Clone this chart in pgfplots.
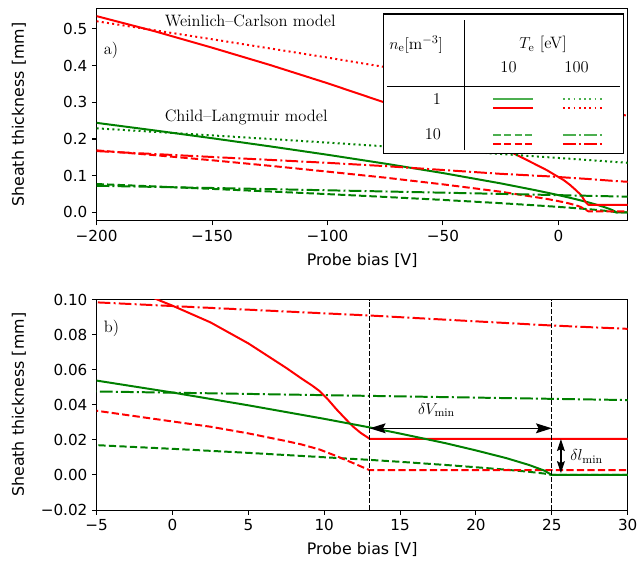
\documentclass[border=0pt]{standalone}
\usepackage{pgfplots}
\usepackage{pgfplotstable}
\pgfplotsset{compat=1.18}
\usepackage{fontspec}
\usetikzlibrary{arrows.meta}
\newfontfamily\dejavu{DejaVu Sans}
\definecolor{mplgreen}{HTML}{008000}
\definecolor{leggreen}{HTML}{4CAF50}

% Weinlich-Carlson model (red), Child-Langmuir model (green)
% A: ne=1, Te=10 | B: ne=1, Te=100 | C: ne=10, Te=10 | D: ne=10, Te=100
\pgfplotstableread{
x y
-200 0.535
-175 0.494
-150 0.449
-125 0.402
-100 0.352
-75 0.299
-50 0.240
-25 0.178
-15 0.147
-10 0.131
-5 0.115
-1 0.100
0 0.0965
2.5 0.087
5 0.075
7.5 0.061
8.5 0.055
9.2 0.051
9.7 0.0478
10.2 0.0435
10.8 0.0375
11.4 0.0320
11.9 0.0276
12.4 0.0240
13 0.0206
30 0.0206
}\wcA
\pgfplotstableread{
x y
-200 0.521
-150 0.472
-100 0.422
-75 0.396
-50 0.369
-25 0.338
0 0.304
30 0.263
}\wcB
\pgfplotstableread{
x y
-200 0.169
-175 0.156
-150 0.142
-125 0.127
-100 0.111
-75 0.0946
-50 0.0763
-25 0.0563
-15 0.0465
-10 0.0415
-5 0.0366
0 0.0305
2.5 0.0275
5 0.0237
7.5 0.0193
8.5 0.0174
9.7 0.0145
10.2 0.0128
10.8 0.0108
11.9 0.0068
13 0.0027
30 0.0027
}\wcC
\pgfplotstableread{
x y
-200 0.167
-150 0.151
-100 0.135
-75 0.126
-50 0.1155
-25 0.105
-5 0.0984
0 0.0963
13 0.0909
25 0.0852
30 0.0833
}\wcD
\pgfplotstableread{
x y
-200 0.2440
-175 0.2234
-150 0.2021
-125 0.1800
-100 0.1570
-75 0.1328
-50 0.1071
-25 0.0790
-10 0.0604
-5 0.0538
0 0.0470
5 0.0397
10 0.0320
13 0.0271
15 0.0236
18 0.0181
20 0.0140
22 0.0096
23.5 0.0057
24.5 0.0025
25 0.0
30 0.0
}\clA
\pgfplotstableread{
x y
-200 0.2290
-175 0.2195
-150 0.2098
-125 0.2000
-100 0.1901
-75 0.1799
-50 0.1696
-25 0.1591
0 0.1483
15 0.1417
30 0.1350
}\clB
\pgfplotstableread{
x y
-200 0.0772
-175 0.0707
-150 0.0639
-125 0.0569
-100 0.0497
-75 0.0420
-50 0.0339
-25 0.0250
-10 0.0191
-5 0.0170
0 0.0149
5 0.0126
10 0.0101
13 0.0086
15 0.0075
18 0.0057
20 0.0044
22 0.0030
23.5 0.0018
24.5 0.0008
25 0.0
30 0.0
}\clC
\pgfplotstableread{
x y
-200 0.0724
-175 0.0694
-150 0.0664
-125 0.0633
-100 0.0601
-75 0.0569
-50 0.0536
-25 0.0503
-5 0.0476
0 0.0469
15 0.0448
30 0.0427
}\clD

\tikzset{
  wc/.style={red},
  cl/.style={mplgreen},
  lnA/.style={solid},
  lnB/.style={dash pattern=on 1.5pt off 2.475pt},
  lnC/.style={dash pattern=on 5.55pt off 2.4pt},
  lnD/.style={dash pattern=on 9.6pt off 2.4pt on 1.5pt off 2.4pt},
}
\pgfplotsset{
  sheath/.style={
    scale only axis, width=401.9pt,
    tick align=outside, xtick pos=bottom, ytick pos=left,
    major tick length=3.5pt,
    every tick/.style={black, line width=0.8pt},
    axis line style={line width=0.8pt},
    tick label style={font=\dejavu\fontsize{11.5}{13}\selectfont},
    ylabel={Sheath thickness [mm]}, xlabel={Probe bias [V]},
    ylabel style={at={(axis description cs:-0.1465,0.5)}, anchor=center,
      font=\dejavu\fontsize{12}{14}\selectfont},
    xlabel style={anchor=center, font=\dejavu\fontsize{12}{14}\selectfont},
    every axis plot/.append style={mark=none, line width=1.5pt, line join=round},
  },
}

\begin{document}
\begin{tikzpicture}
\begin{axis}[sheath, name=top, at={(0,0)}, anchor=south west, height=160.3pt,
  xmin=-200, xmax=30, ymin=-0.0227, ymax=0.5548,
  xtick={-200,-150,-100,-50,0}, xticklabels={−200,−150,−100,−50,0},
  ytick={0,0.1,0.2,0.3,0.4,0.5}, yticklabels={0.0,0.1,0.2,0.3,0.4,0.5},
  xlabel style={at={(axis description cs:0.5,-0.1886)}}]
\addplot[cl, lnA] table {\clA};
\addplot[wc, lnA] table {\wcA};
\addplot[cl, lnB] table {\clB};
\addplot[wc, lnB] table {\wcB};
\addplot[cl, lnC] table {\clC};
\addplot[wc, lnC] table {\wcC};
\addplot[cl, lnD] table {\clD};
\addplot[wc, lnD] table {\wcD};
\begin{scope}[font=\fontsize{12.5}{15}\selectfont]
\node[anchor=west] at (axis cs:-172.5,0.523) {Weinlich--Carlson model};
\node[anchor=west] at (axis cs:-172.5,0.259) {Child--Langmuir model};
\node[anchor=west, inner sep=0pt] at (axis cs:-197,0.442) {a)};
% table-style legend
\draw[fill=white, line width=1pt] (axis cs:-75.8,0.1595) rectangle (axis cs:28.2,0.5405);
\draw[line width=0.9pt] (axis cs:-40.5,0.170) -- (axis cs:-40.5,0.524);
\draw[line width=0.9pt] (axis cs:-74.1,0.343) -- (axis cs:26.5,0.343);
\node at (axis cs:-61.6,0.457) {$n_\mathrm{e}[\mathrm{m}^{-3}]$};
\node at (axis cs:-6.6,0.457) {$T_\mathrm{e}$ [eV]};
\node at (axis cs:-21.6,0.395) {10};
\node at (axis cs:7.9,0.395) {100};
\node[anchor=east] at (axis cs:-48.8,0.308) {1};
\node[anchor=east] at (axis cs:-48.8,0.2135) {10};
\end{scope}
\begin{scope}[line width=1.6pt]
\draw[leggreen, lnA] (axis cs:-28.1,0.308) -- (axis cs:-10.9,0.308);
\draw[red, lnA] (axis cs:-28.1,0.284) -- (axis cs:-10.9,0.284);
\draw[leggreen, lnB] (axis cs:2.0,0.308) -- (axis cs:19.2,0.308);
\draw[red, lnB] (axis cs:2.0,0.284) -- (axis cs:19.2,0.284);
\draw[leggreen, lnC] (axis cs:-28.1,0.211) -- (axis cs:-10.9,0.211);
\draw[red, lnC] (axis cs:-28.1,0.1865) -- (axis cs:-10.9,0.1865);
\draw[leggreen, lnD] (axis cs:2.0,0.211) -- (axis cs:19.2,0.211);
\draw[red, lnD] (axis cs:2.0,0.1865) -- (axis cs:19.2,0.1865);
\end{scope}
\end{axis}

\begin{axis}[sheath, name=bottom, at={(0,-59.7pt)}, anchor=north west, height=159.3pt,
  xmin=-5, xmax=30, ymin=-0.02, ymax=0.10,
  xtick={-5,0,5,10,15,20,25,30}, xticklabels={−5,0,5,10,15,20,25,30},
  ytick={-0.02,0,0.02,0.04,0.06,0.08,0.10},
  yticklabels={−0.02,0.00,0.02,0.04,0.06,0.08,0.10},
  xlabel style={at={(axis description cs:0.5,-0.1897)}}]
\addplot[wc, lnD] table {\wcD};
\addplot[cl, lnD] table {\clD};
\addplot[cl, lnC] table {\clC};
\addplot[wc, lnC] table {\wcC};
\addplot[wc, lnA] table {\wcA};
\addplot[cl, lnA] table {\clA};
\addplot[black, line width=0.9pt, dash pattern=on 3.7pt off 1.6pt] coordinates {(13,-0.02) (13,0.10)};
\addplot[black, line width=0.9pt, dash pattern=on 3.7pt off 1.6pt] coordinates {(25,-0.02) (25,0.10)};
\draw[line width=0.9pt, {Stealth[length=12pt,width=7.5pt,inset=2pt]}-{Stealth[length=12pt,width=7.5pt,inset=2pt]}]
  (axis cs:13,0.0266) -- (axis cs:25,0.0266);
\draw[line width=0.9pt, {Stealth[length=9pt,width=6pt,inset=1.5pt]}-{Stealth[length=9pt,width=6pt,inset=1.5pt]}]
  (axis cs:25.6,0.0204) -- (axis cs:25.6,0.0011);
\begin{scope}[font=\fontsize{12.5}{15}\selectfont]
\node at (axis cs:17.4,0.037) {$\delta V_\mathrm{min}$};
\node[anchor=west, inner sep=0pt] at (axis cs:26.2,0.0106) {$\delta l_\mathrm{min}$};
\node[anchor=west, inner sep=0pt] at (axis cs:-4.54,0.0835) {b)};
\end{scope}
\end{axis}
\pgfresetboundingbox
\path (-73.1pt,-258.2pt) rectangle (410.5pt,167.0pt);
\end{tikzpicture}
\end{document}
